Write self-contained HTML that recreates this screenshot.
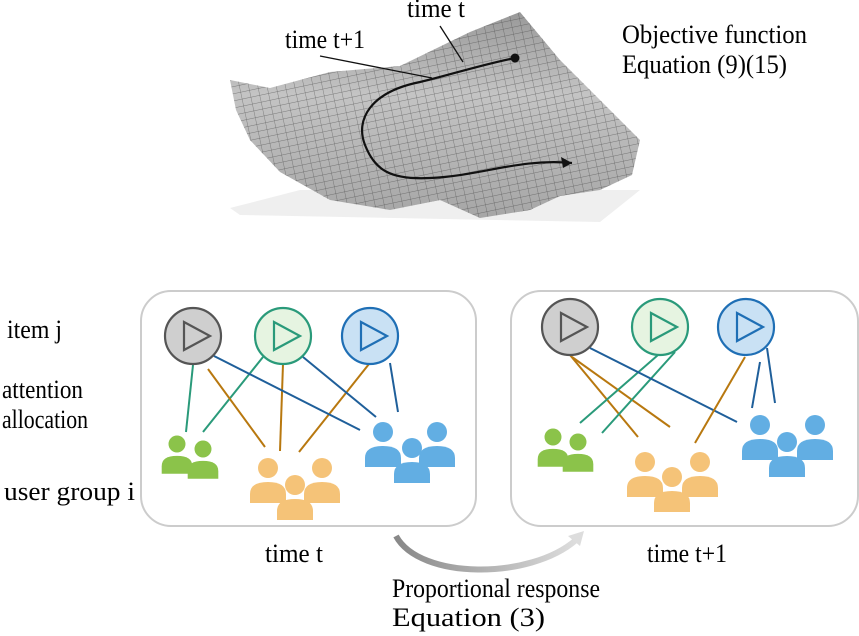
<!DOCTYPE html>
<html><head><meta charset="utf-8"><style>
html,body{margin:0;padding:0;background:#fff;}
svg{display:block;}
text{font-family:"Liberation Serif",serif;fill:#000;font-size:26px;}
</style></head><body>
<svg width="859" height="636" viewBox="0 0 859 636" xmlns="http://www.w3.org/2000/svg">
<defs>
<symbol id="p" overflow="visible"><circle cx="0" cy="0" r="10"/><path d="M-18,35 L-18,26 Q-18,14 0,14 Q18,14 18,26 L18,35 Z"/></symbol>
<pattern id="grid" width="9" height="7" patternUnits="userSpaceOnUse" patternTransform="rotate(-12)">
<rect width="9" height="7" fill="none"/><path d="M0,0 H9 M0,0 V7" stroke="#444" stroke-width="0.7"/></pattern>
<linearGradient id="sg" x1="0" y1="0" x2="0" y2="1"><stop offset="0" stop-color="#999"/><stop offset="0.4" stop-color="#c4c4c4"/><stop offset="1" stop-color="#a6a6a6"/></linearGradient>
<linearGradient id="ag" x1="0" y1="0" x2="1" y2="0"><stop offset="0" stop-color="#888"/><stop offset="1" stop-color="#ddd"/></linearGradient>
</defs>
<path d="M230,208 L300,190 L640,190 L600,222 L240,215 Z" fill="#efefef"/>
<path d="M230,80 L270,88 L330,72 L400,66 L470,32 L520,12 L560,60 L610,110 L640,140 L632,175 L600,190 L560,196 L530,210 L480,218 L440,200 L390,210 L330,200 L280,172 L250,140 L236,110 Z" fill="url(#sg)"/>
<path d="M230,80 L270,88 L330,72 L400,66 L470,32 L520,12 L560,60 L610,110 L640,140 L632,175 L600,190 L560,196 L530,210 L480,218 L440,200 L390,210 L330,200 L280,172 L250,140 L236,110 Z" fill="url(#grid)" opacity="0.75"/>
<circle cx="515" cy="58" r="4.5" fill="#111"/>
<path d="M515,58 C480,65 450,75 420,82 C370,92 355,120 365,145 C375,170 390,180 430,178 C480,176 520,158 572,163" fill="none" stroke="#111" stroke-width="2.2"/>
<path d="M572,163 L561,157 L563,168 Z" fill="#111"/>
<line x1="440" y1="26" x2="463" y2="62" stroke="#111" stroke-width="1.3"/>
<line x1="320" y1="56" x2="432" y2="78" stroke="#111" stroke-width="1.3"/>
<text x="407" y="17" textLength="58" lengthAdjust="spacingAndGlyphs">time t</text>
<text x="285" y="48" textLength="80" lengthAdjust="spacingAndGlyphs">time t+1</text>
<text x="622" y="43" textLength="185" lengthAdjust="spacingAndGlyphs">Objective function</text>
<text x="622" y="73" textLength="165" lengthAdjust="spacingAndGlyphs">Equation (9)(15)</text>
<text x="7" y="338" textLength="55" lengthAdjust="spacingAndGlyphs">item j</text>
<text x="2" y="398" textLength="81" lengthAdjust="spacingAndGlyphs">attention</text>
<text x="2" y="428" textLength="86" lengthAdjust="spacingAndGlyphs">allocation</text>
<text x="4" y="500" textLength="131" lengthAdjust="spacingAndGlyphs">user group i</text>
<rect x="141" y="291" width="335" height="235" rx="30" fill="#fff" stroke="#ccc" stroke-width="2"/>
<rect x="511" y="291" width="347" height="235" rx="30" fill="#fff" stroke="#ccc" stroke-width="2"/>
<g stroke-width="2" fill="none">
<line x1="193" y1="365" x2="186" y2="432" stroke="#2a9a7a"/>
<line x1="263" y1="357" x2="203" y2="432" stroke="#2a9a7a"/>
<line x1="208" y1="369" x2="265" y2="447" stroke="#b8780f"/>
<line x1="283" y1="364" x2="280" y2="451" stroke="#b8780f"/>
<line x1="369" y1="364" x2="299" y2="452" stroke="#b8780f"/>
<line x1="214" y1="356" x2="360" y2="430" stroke="#1f5f9a"/>
<line x1="303" y1="357" x2="376" y2="417" stroke="#1f5f9a"/>
<line x1="390" y1="363" x2="398" y2="412" stroke="#1f5f9a"/>
</g>
<g stroke-width="2" fill="none">
<line x1="570" y1="355" x2="638" y2="437" stroke="#b8780f"/>
<line x1="572" y1="357" x2="670" y2="427" stroke="#b8780f"/>
<line x1="658" y1="355" x2="580" y2="423" stroke="#2a9a7a"/>
<line x1="675" y1="352" x2="602" y2="433" stroke="#2a9a7a"/>
<line x1="590" y1="348" x2="737" y2="422" stroke="#1f5f9a"/>
<line x1="745" y1="357" x2="695" y2="443" stroke="#b8780f"/>
<line x1="760" y1="362" x2="752" y2="408" stroke="#1f5f9a"/>
<line x1="767" y1="348" x2="775" y2="403" stroke="#1f5f9a"/>
</g>
<g stroke-width="2.2">
<circle cx="193" cy="336" r="28" fill="#cfcfcf" stroke="#555"/>
<path d="M184,322 L184,350 L210,336 Z" fill="none" stroke="#555"/>
<circle cx="283" cy="336" r="28" fill="#e6f4e1" stroke="#2a9a7a"/>
<path d="M274,322 L274,350 L300,336 Z" fill="none" stroke="#2a9a7a"/>
<circle cx="370" cy="336" r="28" fill="#c9e1f4" stroke="#1f6fb5"/>
<path d="M361,322 L361,350 L387,336 Z" fill="none" stroke="#1f6fb5"/>
<circle cx="570" cy="327" r="28" fill="#cfcfcf" stroke="#555"/>
<path d="M561,313 L561,341 L587,327 Z" fill="none" stroke="#555"/>
<circle cx="660" cy="327" r="28" fill="#e6f4e1" stroke="#2a9a7a"/>
<path d="M651,313 L651,341 L677,327 Z" fill="none" stroke="#2a9a7a"/>
<circle cx="746" cy="327" r="28" fill="#c9e1f4" stroke="#1f6fb5"/>
<path d="M737,313 L737,341 L763,327 Z" fill="none" stroke="#1f6fb5"/>
</g>
<g fill="#8bc34a">
<use href="#p" transform="translate(177,444) scale(0.85)"/>
<use href="#p" transform="translate(203,449) scale(0.85)"/>
</g>
<g fill="#f5c378">
<use href="#p" x="268" y="468"/><use href="#p" x="322" y="468"/><use href="#p" x="295" y="485"/>
</g>
<g fill="#62aee3">
<use href="#p" x="383" y="432"/><use href="#p" x="437" y="432"/><use href="#p" x="412" y="448"/>
</g>
<g fill="#8bc34a">
<use href="#p" transform="translate(553,437) scale(0.85)"/>
<use href="#p" transform="translate(578,442) scale(0.85)"/>
</g>
<g fill="#f5c378">
<use href="#p" x="645" y="462"/><use href="#p" x="700" y="462"/><use href="#p" x="672" y="477"/>
</g>
<g fill="#62aee3">
<use href="#p" x="760" y="425"/><use href="#p" x="815" y="425"/><use href="#p" x="787" y="442"/>
</g>
<text x="265" y="562" textLength="58" lengthAdjust="spacingAndGlyphs">time t</text>
<text x="647" y="562" textLength="80" lengthAdjust="spacingAndGlyphs">time t+1</text>
<path d="M396,536 C420,580 530,580 576,540" fill="none" stroke="url(#ag)" stroke-width="6"/>
<path d="M584,531 L568,536 L580,546 Z" fill="#ddd"/>
<text x="392" y="597" textLength="208" lengthAdjust="spacingAndGlyphs">Proportional response</text>
<text x="392" y="626" textLength="153" lengthAdjust="spacingAndGlyphs">Equation (3)</text>
</svg>
</body></html>
